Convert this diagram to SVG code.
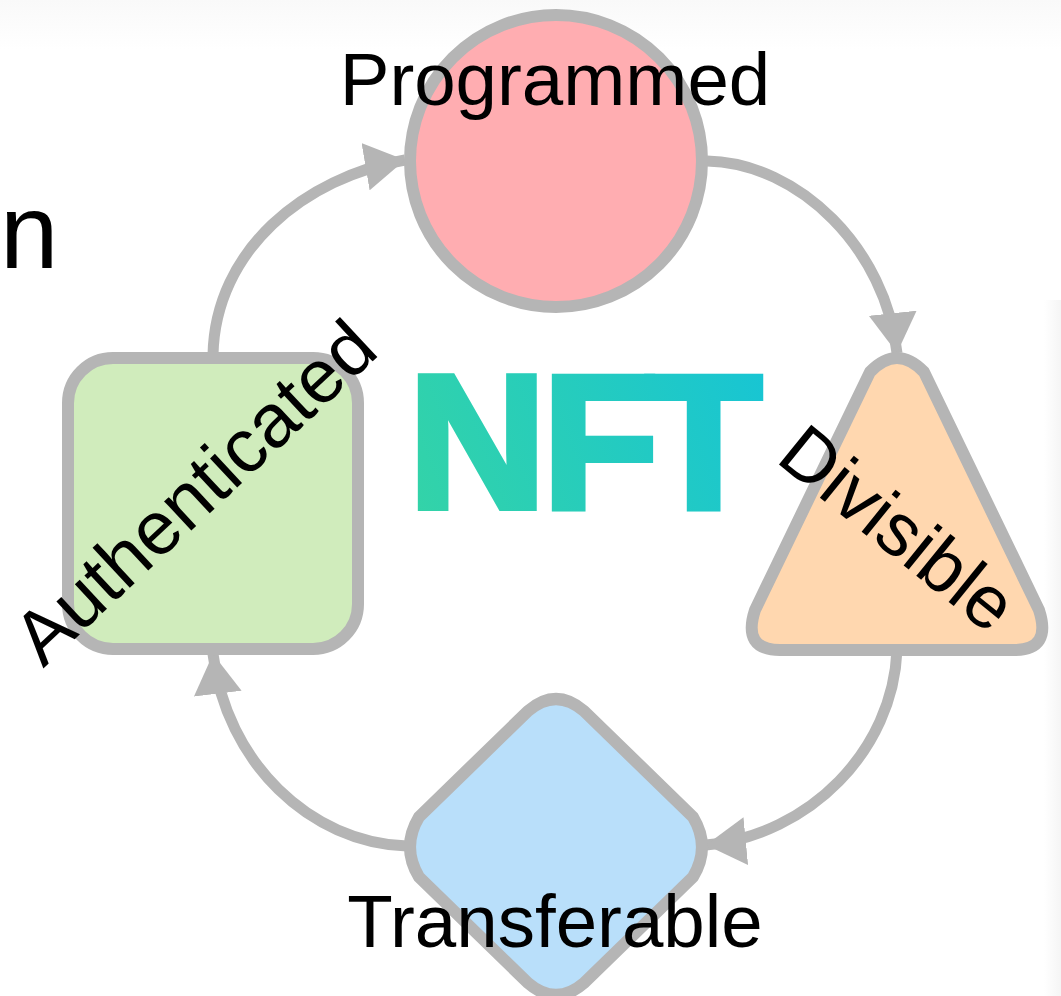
<svg xmlns="http://www.w3.org/2000/svg" width="1061" height="996" viewBox="0 0 1061 996">
<defs>
<linearGradient id="nftGrad" gradientUnits="userSpaceOnUse" x1="417" y1="511" x2="763" y2="373"><stop offset="0" stop-color="#33d3a8"/><stop offset="1" stop-color="#18c5d3"/></linearGradient>
<linearGradient id="topFade" x1="0" y1="0" x2="0" y2="1"><stop offset="0" stop-color="#f9f9f9"/><stop offset="1" stop-color="#ffffff"/></linearGradient>
<linearGradient id="rightFade" x1="0" y1="0" x2="1" y2="0"><stop offset="0" stop-color="#ffffff"/><stop offset="1" stop-color="#f5f5f5"/></linearGradient>
<marker id="arrow" viewBox="0 0 40 48" refX="40" refY="24" markerWidth="40" markerHeight="48" markerUnits="userSpaceOnUse" orient="auto"><path d="M0,0L40,24L0,48Z" fill="#b5b5b5"/></marker>
</defs>
<style>
.shape{stroke:#b5b5b5;stroke-width:12;stroke-linejoin:round}
.conn{fill:none;stroke:#b5b5b5;stroke-width:11;marker-end:url(#arrow)}
.label{font-family:"Liberation Sans",Arial,sans-serif;font-size:74.5px;fill:#000}
</style>
<rect width="1061" height="996" fill="#fff"/>
<rect width="1061" height="50" fill="url(#topFade)"/>
<rect x="1044" y="300" width="17" height="696" fill="url(#rightFade)"/>
<g id="connectors">
<path class="conn" d="M707,161C800,163 886,250 897,353"/>
<path class="conn" d="M897,650C893,750 810,835 706,845"/>
<path class="conn" d="M407,846C310,843 226,762 213,654"/>
<path class="conn" d="M213,355C215,250 305,177 405,160"/>
</g>
<g id="programmed"><circle class="shape" cx="556" cy="161" r="146" fill="#ffadb1"/><text class="label" x="555" y="105" text-anchor="middle">Programmed</text></g>
<g id="divisible"><path class="shape" d="M870,372Q897,344 924,372L1039,610Q1052,650 1014,650H780Q742,650 755,610Z" fill="#ffd7af"/><text class="label" transform="translate(882,548) rotate(39)" text-anchor="middle">Divisible</text></g>
<g id="transferable"><path class="shape" d="M528,711Q556,687 584,711L693,817Q711,847 693,877L584,983Q556,1007 528,983L419,877Q401,847 419,817Z" fill="#b9dffa"/><text class="label" x="555" y="947" text-anchor="middle">Transferable</text></g>
<g id="authenticated"><rect class="shape" x="68" y="358" width="290" height="291" rx="45" fill="#d0ecbc"/><text class="label" transform="translate(212,511) rotate(-43)" style="font-size:75.5px" text-anchor="middle">Authenticated</text></g>
<g id="nft"><text x="408 542 645" y="508" font-family="'Liberation Sans',Arial,sans-serif" font-weight="700" font-size="192" fill="url(#nftGrad)" stroke="url(#nftGrad)" stroke-width="6">NFT</text></g>
<text x="0" y="268" font-family="'Liberation Sans',Arial,sans-serif" font-size="105" fill="#000">n</text>
</svg>
